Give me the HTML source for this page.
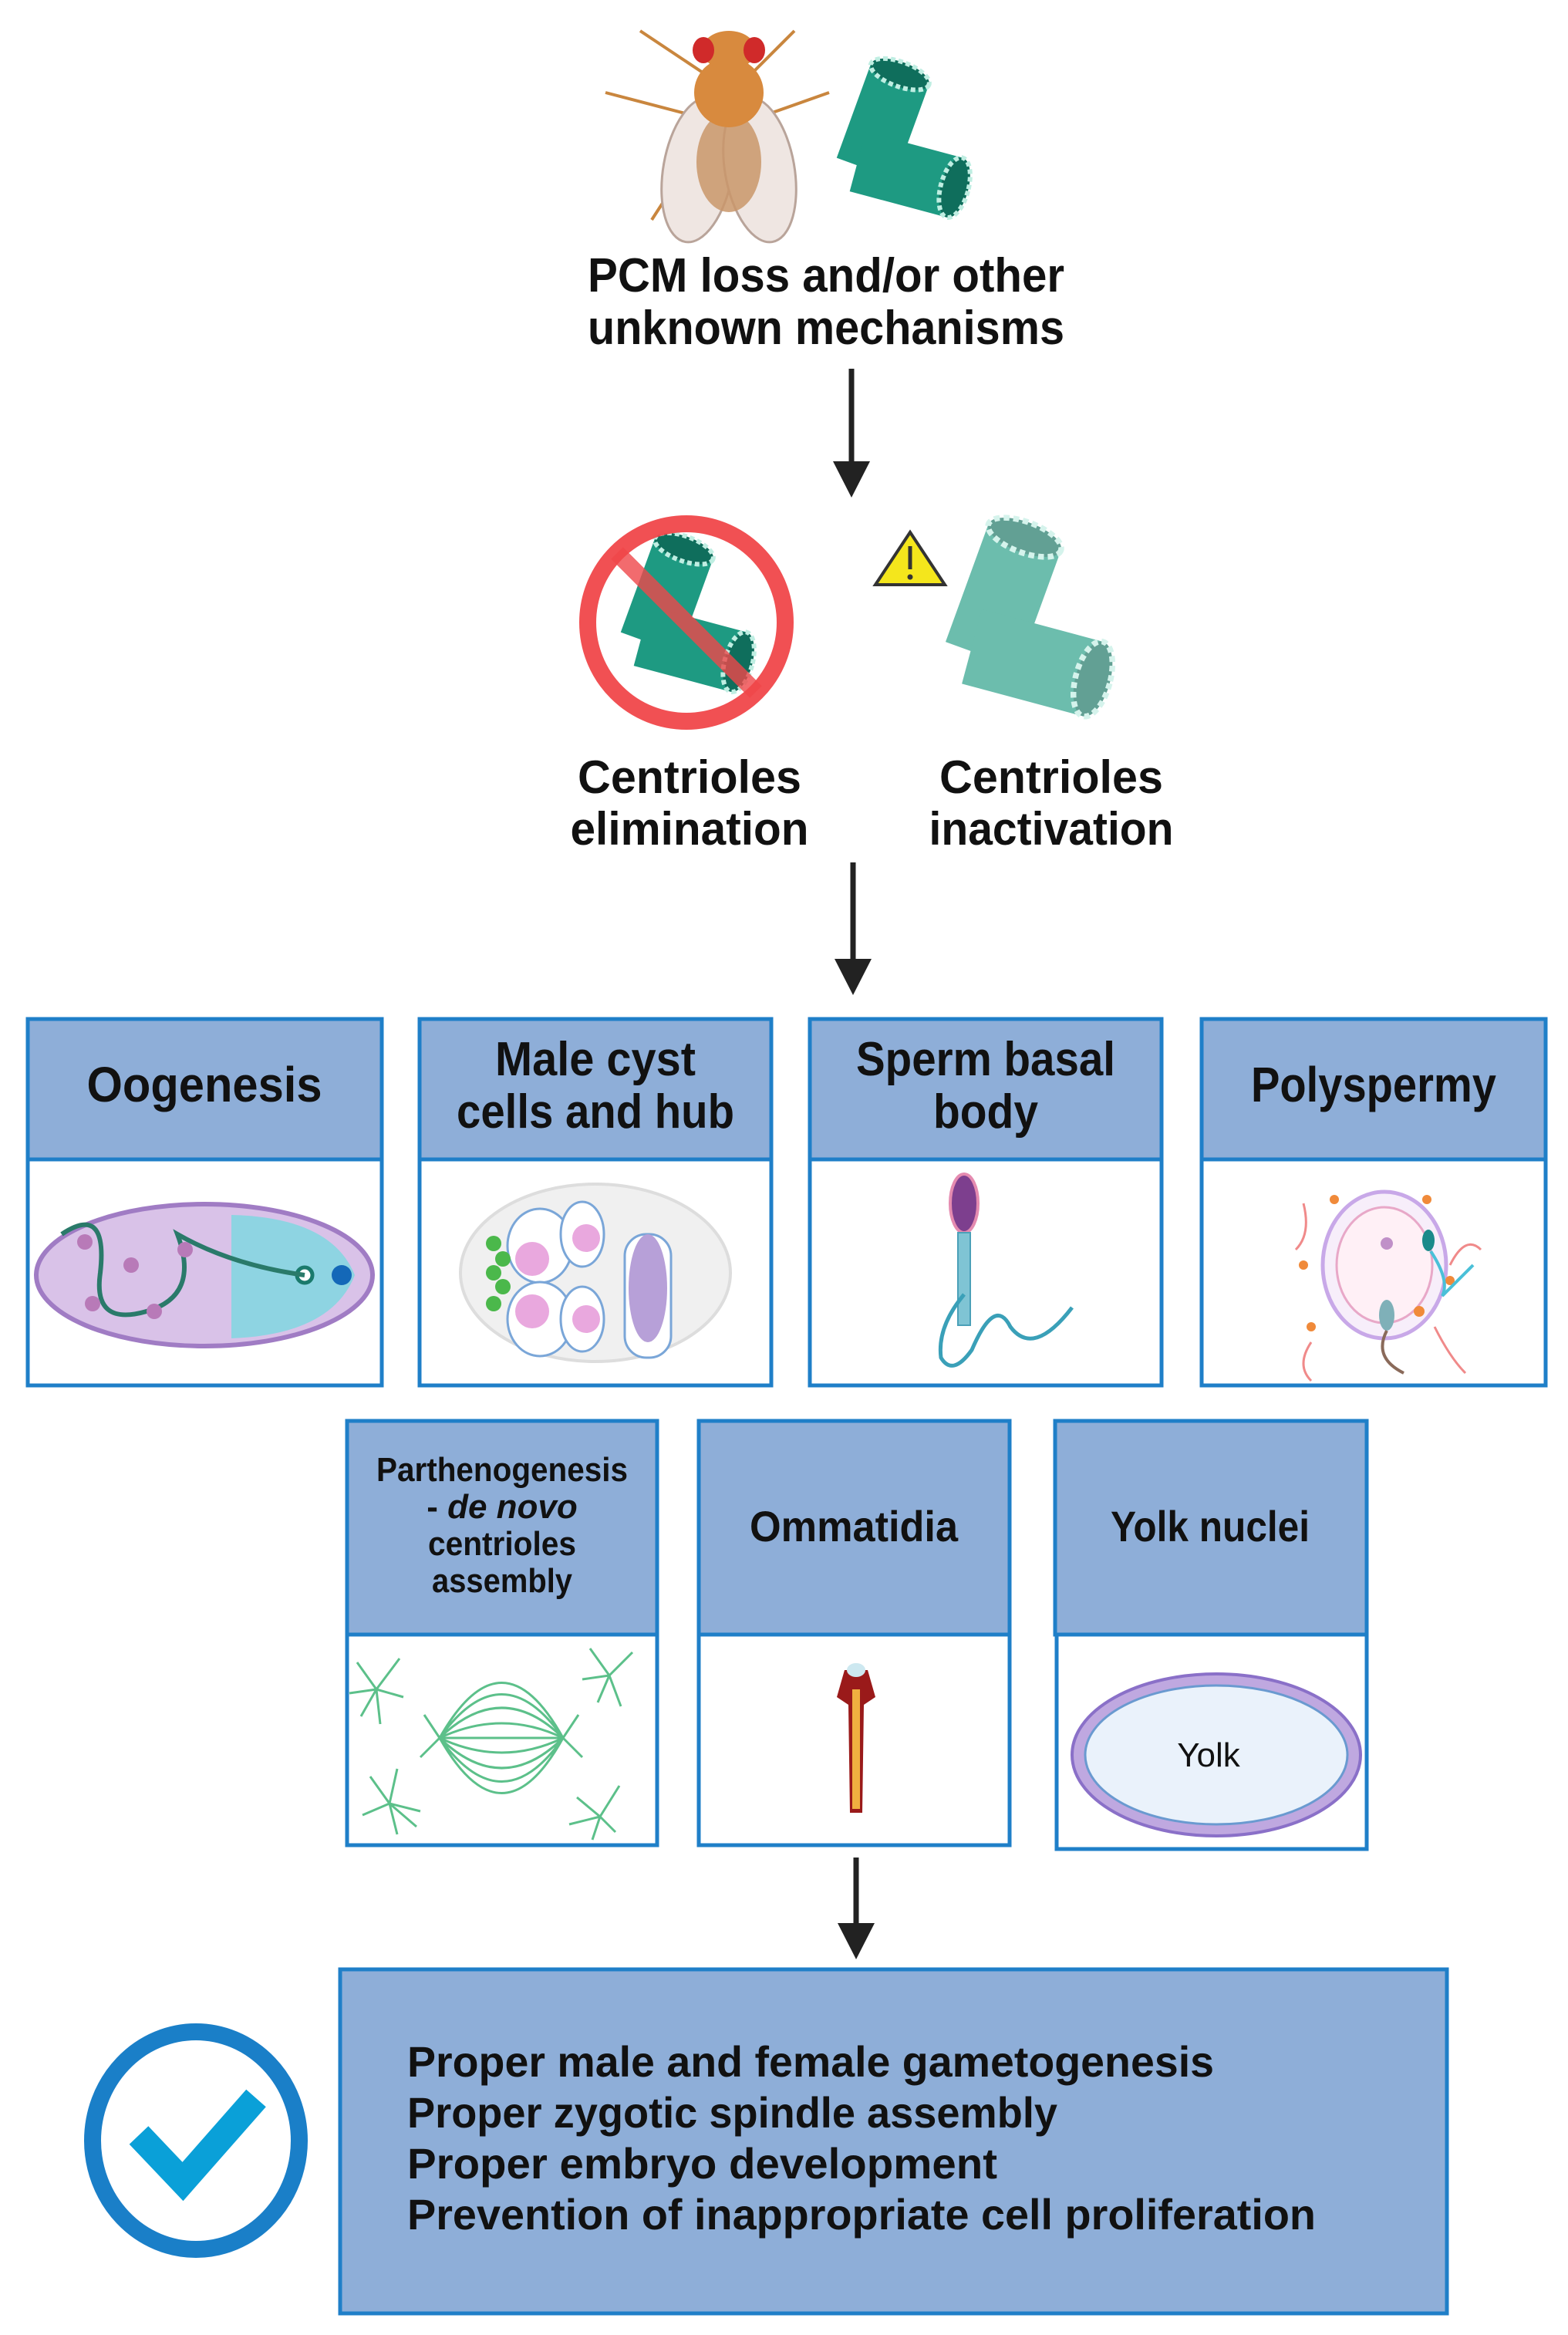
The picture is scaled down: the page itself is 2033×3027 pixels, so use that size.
<!DOCTYPE html>
<html><head><meta charset="utf-8"><style>
html,body{margin:0;padding:0;background:#fff;}
svg{display:block;}
text{font-family:"Liberation Sans",sans-serif;font-weight:bold;fill:#111;}
</style></head><body>
<svg width="2033" height="3027" viewBox="0 0 2033 3027" xmlns="http://www.w3.org/2000/svg">
<defs>
<g id="cent">
  <g transform="rotate(20)">
    <rect x="-40" y="-20" width="80" height="130" fill="#1e9a82"/>
    <ellipse cx="0" cy="-20" rx="40" ry="16" fill="#0f6e5c" stroke="#bfeee2" stroke-width="6" stroke-dasharray="6 4"/>
  </g>
  <g transform="translate(10,110) rotate(15)">
    <rect x="-60" y="-40" width="130" height="80" fill="#1e9a82"/>
    <ellipse cx="70" cy="0" rx="18" ry="40" fill="#0f6e5c" stroke="#bfeee2" stroke-width="6" stroke-dasharray="6 4"/>
  </g>
</g>
</defs>

<!-- fly -->
<g>
  <line x1="830" y1="40" x2="935" y2="110" stroke="#c9863e" stroke-width="4"/>
  <line x1="1030" y1="40" x2="960" y2="110" stroke="#c9863e" stroke-width="4"/>
  <line x1="785" y1="120" x2="900" y2="150" stroke="#c9863e" stroke-width="4"/>
  <line x1="1075" y1="120" x2="990" y2="150" stroke="#c9863e" stroke-width="4"/>
  <line x1="845" y1="285" x2="900" y2="200" stroke="#c9863e" stroke-width="4"/>
  <line x1="1015" y1="285" x2="990" y2="200" stroke="#c9863e" stroke-width="4"/>
  <ellipse cx="905" cy="220" rx="45" ry="95" fill="#efe6e2" stroke="#b9a49a" stroke-width="3" transform="rotate(10 905 220)"/>
  <ellipse cx="985" cy="220" rx="45" ry="95" fill="#efe6e2" stroke="#b9a49a" stroke-width="3" transform="rotate(-10 985 220)"/>
  <ellipse cx="945" cy="210" rx="42" ry="65" fill="#c9966a" opacity="0.85"/>
  <ellipse cx="945" cy="120" rx="45" ry="45" fill="#d88a3e"/>
  <ellipse cx="945" cy="65" rx="35" ry="25" fill="#d88a3e"/>
  <ellipse cx="912" cy="65" rx="14" ry="17" fill="#d02a2a"/>
  <ellipse cx="978" cy="65" rx="14" ry="17" fill="#d02a2a"/>
</g>
<g transform="translate(1160,115)"><use href="#cent"/></g>

<text x="1071" y="378" font-size="62" text-anchor="middle" textLength="618" lengthAdjust="spacingAndGlyphs">PCM loss and/or other</text>
<text x="1071" y="446" font-size="62" text-anchor="middle" textLength="618" lengthAdjust="spacingAndGlyphs">unknown mechanisms</text>

<line x1="1104" y1="478" x2="1104" y2="600" stroke="#222" stroke-width="7"/>
<polygon points="1080,598 1128,598 1104,645" fill="#222"/>

<g transform="translate(880,730)"><use href="#cent"/></g>
<circle cx="890" cy="807" r="128" fill="none" stroke="#f0474a" stroke-width="22" opacity="0.95"/>
<line x1="800" y1="717" x2="980" y2="897" stroke="#f0474a" stroke-width="22" opacity="0.8"/>
<polygon points="1180,690 1225,758 1135,758" fill="#f4e61c" stroke="#333" stroke-width="4"/>
<line x1="1180" y1="708" x2="1180" y2="738" stroke="#333" stroke-width="5"/>
<circle cx="1180" cy="748" r="3.5" fill="#333"/>
<g transform="translate(1320,720) scale(1.25)" opacity="0.65"><use href="#cent"/></g>

<text x="894" y="1028" font-size="60" text-anchor="middle" textLength="290" lengthAdjust="spacingAndGlyphs">Centrioles</text>
<text x="894" y="1095" font-size="60" text-anchor="middle" textLength="309" lengthAdjust="spacingAndGlyphs">elimination</text>
<text x="1363" y="1028" font-size="60" text-anchor="middle" textLength="290" lengthAdjust="spacingAndGlyphs">Centrioles</text>
<text x="1363" y="1095" font-size="60" text-anchor="middle" textLength="317" lengthAdjust="spacingAndGlyphs">inactivation</text>

<line x1="1106" y1="1118" x2="1106" y2="1245" stroke="#222" stroke-width="7"/>
<polygon points="1082,1243 1130,1243 1106,1290" fill="#222"/>

<g fill="#fff" stroke="#1f7fc8" stroke-width="5">
  <rect x="36" y="1321" width="459" height="475"/>
  <rect x="544" y="1321" width="456" height="475"/>
  <rect x="1050" y="1321" width="456" height="475"/>
  <rect x="1558" y="1321" width="446" height="475"/>
</g>
<g fill="#8eaed8" stroke="#1f7fc8" stroke-width="5">
  <rect x="36" y="1321" width="459" height="182"/>
  <rect x="544" y="1321" width="456" height="182"/>
  <rect x="1050" y="1321" width="456" height="182"/>
  <rect x="1558" y="1321" width="446" height="182"/>
</g>
<text x="265" y="1428" font-size="64" text-anchor="middle" textLength="305" lengthAdjust="spacingAndGlyphs">Oogenesis</text>
<text x="772" y="1394" font-size="62" text-anchor="middle" textLength="260" lengthAdjust="spacingAndGlyphs">Male cyst</text>
<text x="772" y="1462" font-size="62" text-anchor="middle" textLength="360" lengthAdjust="spacingAndGlyphs">cells and hub</text>
<text x="1278" y="1394" font-size="62" text-anchor="middle" textLength="336" lengthAdjust="spacingAndGlyphs">Sperm basal</text>
<text x="1278" y="1462" font-size="62" text-anchor="middle" textLength="136" lengthAdjust="spacingAndGlyphs">body</text>
<text x="1781" y="1428" font-size="64" text-anchor="middle" textLength="318" lengthAdjust="spacingAndGlyphs">Polyspermy</text>

<ellipse cx="265" cy="1653" rx="218" ry="92" fill="#d9c2e8" stroke="#a07cc4" stroke-width="6"/>
<path d="M300 1575 L300 1735 Q430 1730 460 1653 Q430 1578 300 1575Z" fill="#8ed4e2"/>
<circle cx="395" cy="1653" r="10" fill="#fff" stroke="#1a7a6c" stroke-width="5"/>
<circle cx="443" cy="1653" r="13" fill="#1468b8"/>
<path d="M80 1600 Q140 1560 130 1650 Q120 1720 190 1700 Q260 1680 230 1600 Q300 1640 395 1653" fill="none" stroke="#2a7a6a" stroke-width="6"/>
<g fill="#b87ab8"><circle cx="110" cy="1610" r="10"/><circle cx="170" cy="1640" r="10"/><circle cx="240" cy="1620" r="10"/><circle cx="120" cy="1690" r="10"/><circle cx="200" cy="1700" r="10"/></g>

<ellipse cx="772" cy="1650" rx="175" ry="115" fill="#f0f0f0" stroke="#ddd" stroke-width="4"/>
<g fill="#fff" stroke="#7aa6d8" stroke-width="3">
  <ellipse cx="700" cy="1615" rx="42" ry="48"/><ellipse cx="700" cy="1710" rx="42" ry="48"/>
  <ellipse cx="755" cy="1600" rx="28" ry="42"/><ellipse cx="755" cy="1710" rx="28" ry="42"/>
  <rect x="810" y="1600" width="60" height="160" rx="28"/>
</g>
<g fill="#e9a8de"><circle cx="690" cy="1632" r="22"/><circle cx="690" cy="1700" r="22"/><circle cx="760" cy="1605" r="18"/><circle cx="760" cy="1710" r="18"/></g>
<ellipse cx="840" cy="1670" rx="25" ry="70" fill="#b7a0d8"/>
<g fill="#4bb84b"><circle cx="640" cy="1650" r="10"/><circle cx="652" cy="1632" r="10"/><circle cx="652" cy="1668" r="10"/><circle cx="640" cy="1690" r="10"/><circle cx="640" cy="1612" r="10"/></g>

<ellipse cx="1250" cy="1560" rx="18" ry="38" fill="#7d3f8e" stroke="#e58bb0" stroke-width="4"/>
<rect x="1242" y="1598" width="16" height="120" fill="#7fc4d4" stroke="#4aa0b8" stroke-width="2"/>
<path d="M1250 1718 Q1215 1760 1220 1800 Q1235 1825 1260 1790 Q1290 1720 1310 1760 Q1340 1800 1390 1735" fill="none" stroke="#3aa0b8" stroke-width="5" transform="translate(0,-40)"/>

<ellipse cx="1795" cy="1640" rx="80" ry="95" fill="#f7eefa" stroke="#c8a8e8" stroke-width="5"/>
<ellipse cx="1795" cy="1640" rx="62" ry="75" fill="#fff0f6" stroke="#e8a8c8" stroke-width="3"/>
<circle cx="1798" cy="1612" r="8" fill="#c090c8"/>
<g fill="#f08a3a"><circle cx="1730" cy="1555" r="6"/><circle cx="1850" cy="1555" r="6"/><circle cx="1690" cy="1640" r="6"/><circle cx="1880" cy="1660" r="6"/><circle cx="1700" cy="1720" r="6"/><circle cx="1840" cy="1700" r="7"/></g>
<path d="M1690 1560 Q1700 1600 1680 1620 M1880 1640 Q1900 1600 1920 1620 M1700 1740 Q1680 1770 1700 1790 M1860 1720 Q1880 1760 1900 1780" fill="none" stroke="#f08a8a" stroke-width="3"/>
<ellipse cx="1798" cy="1705" rx="10" ry="20" fill="#7fb0b8"/>
<path d="M1798 1725 Q1780 1760 1820 1780" fill="none" stroke="#8a6a5a" stroke-width="4"/>
<ellipse cx="1852" cy="1608" rx="8" ry="14" fill="#1a8a8a"/>
<path d="M1855 1622 Q1880 1660 1870 1680 Q1900 1650 1910 1640" fill="none" stroke="#4ac0d8" stroke-width="4"/>

<g fill="#fff" stroke="#1f7fc8" stroke-width="5">
  <rect x="450" y="1842" width="402" height="550"/>
  <rect x="906" y="1842" width="403" height="550"/>
  <rect x="1370" y="1842" width="402" height="555"/>
</g>
<g fill="#8eaed8" stroke="#1f7fc8" stroke-width="5">
  <rect x="450" y="1842" width="402" height="277"/>
  <rect x="906" y="1842" width="403" height="277"/>
  <rect x="1368" y="1842" width="404" height="277"/>
</g>
<text x="651" y="1920" font-size="44" text-anchor="middle" textLength="326" lengthAdjust="spacingAndGlyphs">Parthenogenesis</text>
<text x="651" y="1968" font-size="44" text-anchor="middle">- <tspan font-style="italic">de novo</tspan></text>
<text x="651" y="2016" font-size="44" text-anchor="middle" textLength="192" lengthAdjust="spacingAndGlyphs">centrioles</text>
<text x="651" y="2064" font-size="44" text-anchor="middle" textLength="182" lengthAdjust="spacingAndGlyphs">assembly</text>
<text x="1107" y="1998" font-size="56" text-anchor="middle" textLength="270" lengthAdjust="spacingAndGlyphs">Ommatidia</text>
<text x="1569" y="1998" font-size="56" text-anchor="middle" textLength="258" lengthAdjust="spacingAndGlyphs">Yolk nuclei</text>

<g fill="none" stroke="#5cc08a" stroke-width="3">
  <path d="M570 2253 Q651 2110 730 2253 M570 2253 Q651 2396 730 2253 M570 2253 Q651 2140 730 2253 M570 2253 Q651 2366 730 2253 M570 2253 Q651 2175 730 2253 M570 2253 Q651 2331 730 2253 M570 2253 Q651 2215 730 2253 M570 2253 Q651 2291 730 2253 M570 2253 L730 2253 M570 2253 l-20 -30 M570 2253 l-25 25 M730 2253 l20 -30 M730 2253 l25 25"/>
  <path d="M488 2190 l-25 -35 M488 2190 l30 -40 M488 2190 l35 10 M488 2190 l-35 5 M488 2190 l5 45 M488 2190 l-20 35"/>
  <path d="M790 2172 l-25 -35 M790 2172 l30 -30 M790 2172 l15 40 M790 2172 l-35 5 M790 2172 l-15 35"/>
  <path d="M505 2338 l-25 -35 M505 2338 l10 -45 M505 2338 l40 10 M505 2338 l-35 15 M505 2338 l10 40 M505 2338 l35 30"/>
  <path d="M778 2355 l-30 -25 M778 2355 l25 -40 M778 2355 l20 20 M778 2355 l-40 10 M778 2355 l-10 30"/>
</g>

<polygon points="1095,2165 1125,2165 1135,2200 1120,2210 1118,2350 1102,2350 1100,2210 1085,2200" fill="#9a1a1a"/>
<rect x="1105" y="2190" width="10" height="155" fill="#f0b040"/>
<ellipse cx="1110" cy="2165" rx="12" ry="9" fill="#cde8f0"/>

<ellipse cx="1577" cy="2275" rx="187" ry="105" fill="#bfa8e0" stroke="#8a70c8" stroke-width="4"/>
<ellipse cx="1577" cy="2275" rx="170" ry="90" fill="#eaf2fb" stroke="#6a9ad0" stroke-width="3"/>
<text x="1567" y="2290" font-size="44" text-anchor="middle" style="font-weight:normal">Yolk</text>

<line x1="1110" y1="2408" x2="1110" y2="2495" stroke="#222" stroke-width="7"/>
<polygon points="1086,2493 1134,2493 1110,2540" fill="#222"/>

<rect x="441" y="2553" width="1435" height="446" fill="#8eaed8" stroke="#1f7fc8" stroke-width="5"/>
<text x="528" y="2692" font-size="56" textLength="1046" lengthAdjust="spacingAndGlyphs">Proper male and female gametogenesis</text>
<text x="528" y="2758" font-size="56" textLength="843" lengthAdjust="spacingAndGlyphs">Proper zygotic spindle assembly</text>
<text x="528" y="2824" font-size="56" textLength="765" lengthAdjust="spacingAndGlyphs">Proper embryo development</text>
<text x="528" y="2890" font-size="56" textLength="1178" lengthAdjust="spacingAndGlyphs">Prevention of inappropriate cell proliferation</text>

<ellipse cx="254" cy="2775" rx="134" ry="141" fill="#fff" stroke="#1a7fc8" stroke-width="22"/>
<polyline points="180,2768 237,2828 332,2720" fill="none" stroke="#0aa0d8" stroke-width="34" stroke-linejoin="miter"/>
</svg>
</body></html>
